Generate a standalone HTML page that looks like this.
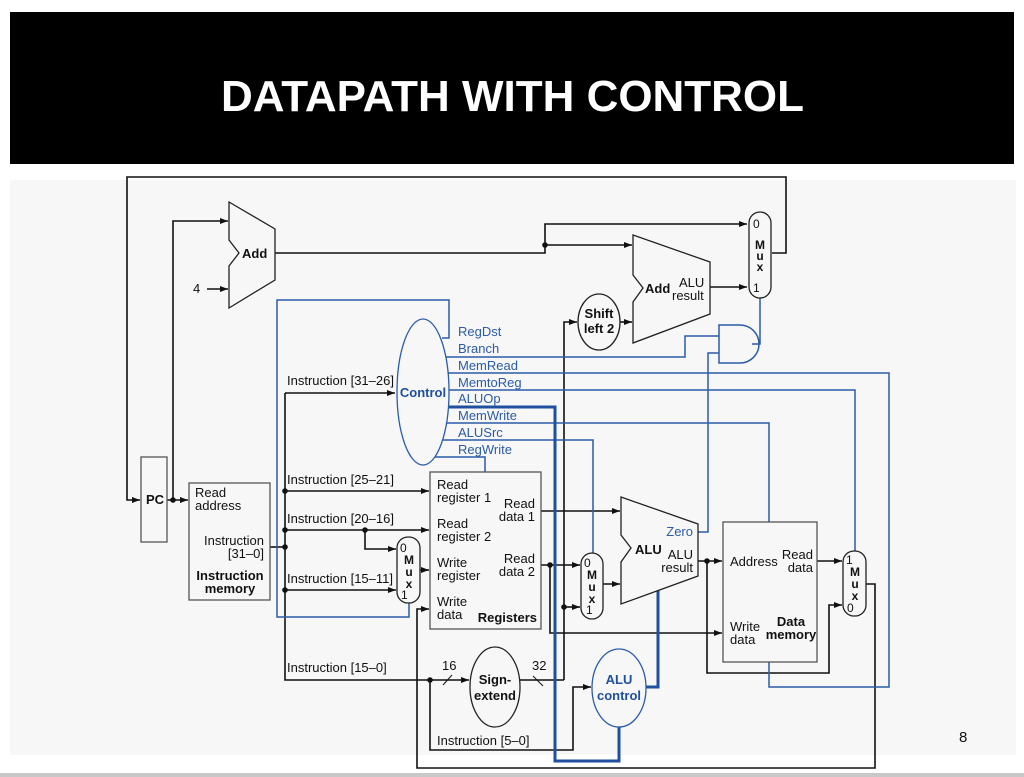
<!DOCTYPE html>
<html><head><meta charset="utf-8"><style>
html,body{margin:0;padding:0;background:#fff;}
svg{display:block;font-family:"Liberation Sans",sans-serif;}
</style></head><body>
<svg width="1024" height="777" viewBox="0 0 1024 777" xmlns="http://www.w3.org/2000/svg">
<defs>
<marker id="a" markerWidth="8" markerHeight="6" refX="8" refY="3" orient="auto" markerUnits="userSpaceOnUse"><path d="M0,0 L8,3 L0,6 z" fill="#111"/></marker>
</defs>
<rect x="0" y="0" width="1024" height="777" fill="#fff"/>
<rect x="10" y="12" width="1004" height="152" fill="#000"/>
<text x="221" y="111" fill="#fff" font-size="44" font-weight="bold" textLength="583" lengthAdjust="spacingAndGlyphs">DATAPATH WITH CONTROL</text>
<rect x="10" y="180" width="1006" height="575" fill="#f7f7f7"/>
<rect x="0" y="773" width="1024" height="4" fill="#c8c8c8"/>
<text x="959" y="742" font-size="15" fill="#111">8</text>

<g fill="none" stroke="#111" stroke-width="1.6">
<polyline points="772,253 786,253 786,177 127,177 127,500 140,500" marker-end="url(#a)"/>
<polyline points="167,500 188,500" marker-end="url(#a)"/>
<polyline points="173,500 173,221 228,221" marker-end="url(#a)"/>
<polyline points="207,289 228,289" marker-end="url(#a)"/>
<polyline points="275,253 545,253 545,224 747,224" marker-end="url(#a)"/>
<polyline points="545,245 632,245" marker-end="url(#a)"/>
<polyline points="710,287 747,287" marker-end="url(#a)"/>
<polyline points="620,322 632,322" marker-end="url(#a)"/>
<polyline points="564,680 564,322 577,322" marker-end="url(#a)"/>
<polyline points="270,547 285,547"/>
<polyline points="285,393 285,680 469,680" marker-end="url(#a)"/>
<polyline points="285,393 395,393" marker-end="url(#a)"/>
<polyline points="285,491 429,491" marker-end="url(#a)"/>
<polyline points="285,530 429,530" marker-end="url(#a)"/>
<polyline points="365,530 365,549 396,549" marker-end="url(#a)"/>
<polyline points="285,590 396,590" marker-end="url(#a)"/>
<polyline points="420,570 429,570" marker-end="url(#a)"/>
<polyline points="430,680 430,750 573,750 573,687 591,687" marker-end="url(#a)"/>
<polyline points="520,680 564,680"/>
<polyline points="866,584 875,584 875,768 417,768 417,609 429,609" marker-end="url(#a)"/>
<polyline points="541,511 620,511" marker-end="url(#a)"/>
<polyline points="541,565 580,565" marker-end="url(#a)"/>
<polyline points="550,565 550,633 722,633" marker-end="url(#a)"/>
<polyline points="564,607 580,607" marker-end="url(#a)"/>
<polyline points="603,584 620,584" marker-end="url(#a)"/>
<polyline points="698,561 722,561" marker-end="url(#a)"/>
<polyline points="707,561 707,673 829,673 829,605 842,605" marker-end="url(#a)"/>
<polyline points="817,561 842,561" marker-end="url(#a)"/>
<line x1="443" y1="685" x2="452" y2="675" stroke-width="1"/>
<line x1="533" y1="676" x2="543" y2="686" stroke-width="1"/>
</g>
<g fill="#111">
<circle cx="173" cy="500" r="2.8"/><circle cx="545" cy="245" r="2.8"/>
<circle cx="285" cy="547" r="2.8"/><circle cx="285" cy="491" r="2.8"/><circle cx="285" cy="530" r="2.8"/>
<circle cx="365" cy="530" r="2.8"/><circle cx="285" cy="590" r="2.8"/><circle cx="430" cy="680" r="2.8"/>
<circle cx="550" cy="565" r="2.8"/><circle cx="564" cy="607" r="2.8"/><circle cx="707" cy="561" r="2.8"/>
</g>

<g fill="none" stroke="#2b5ca8" stroke-width="1.5">
<polyline points="442,338 449,338 449,300 277,300 277,617 409,617 409,603"/>
<polyline points="446,357 685,357 685,336 719,336"/>
<polyline points="448,373 889,373 889,687 769,687 769,662"/>
<polyline points="449,390 855,390 855,551"/>
<polyline points="446,423 769,423 769,522"/>
<polyline points="443,440 593,440 593,553"/>
<polyline points="435,457 485,457 485,472"/>
<polyline points="698,532 708,532 708,353 719,353"/>
<polyline points="752,344 760,344 760,298"/>
<path d="M719,325 L740,325 A19,19 0 0 1 740,363 L719,363 Z"/>
</g>
<g fill="none" stroke="#1f4f9e" stroke-width="3">
<polyline points="448,407 555,407 555,761 619,761 619,727"/>
<polyline points="646,687 658,687 658,590"/>
</g>

<g fill="#f7f7f7" stroke="#222" stroke-width="1.3">
<polygon points="229,202 275,229 275,280 229,308 229,266 239,253 229,240"/>
<polygon points="633,235 710,262 710,314 633,343 633,302 643,288 633,275"/>
<polygon points="621,497 698,524 698,576 621,604 621,562 631,548 621,535"/>
<ellipse cx="599" cy="322" rx="21" ry="28"/>
<ellipse cx="495" cy="687" rx="25" ry="40"/>
<rect x="141" y="457" width="26" height="85" stroke="#555"/>
<rect x="189" y="483" width="81" height="117" stroke="#555"/>
<rect x="430" y="472" width="111" height="157" stroke="#555"/>
<rect x="723" y="522" width="94" height="140" stroke="#555"/>
<rect x="749" y="212" width="22" height="86" rx="11"/>
<rect x="397" y="537" width="23" height="66" rx="11"/>
<rect x="581" y="553" width="22" height="66" rx="11"/>
<rect x="843" y="551" width="23" height="65" rx="11"/>
</g>
<g fill="#f7f7f7" stroke="#2b5ca8" stroke-width="1.3">
<ellipse cx="423" cy="392" rx="26" ry="73"/>
<ellipse cx="619" cy="688" rx="27" ry="39"/>
</g>

<g fill="#111" font-size="13">
<text x="242" y="258" font-weight="bold">Add</text>
<text x="193" y="293">4</text>
<text x="645" y="293" font-weight="bold">Add</text>
<text x="679" y="287">ALU</text>
<text x="672" y="300">result</text>
<text x="599" y="318" font-weight="bold" text-anchor="middle">Shift</text>
<text x="599" y="333" font-weight="bold" text-anchor="middle">left 2</text>
<text x="146" y="504" font-weight="bold">PC</text>
<text x="195" y="497">Read</text>
<text x="195" y="510">address</text>
<text x="264" y="545" text-anchor="end">Instruction</text>
<text x="264" y="558" text-anchor="end">[31–0]</text>
<text x="230" y="580" font-weight="bold" text-anchor="middle">Instruction</text>
<text x="230" y="593" font-weight="bold" text-anchor="middle">memory</text>
<text x="287" y="385">Instruction [31–26]</text>
<text x="287" y="484">Instruction [25–21]</text>
<text x="287" y="523">Instruction [20–16]</text>
<text x="287" y="583">Instruction [15–11]</text>
<text x="287" y="672">Instruction [15–0]</text>
<text x="437" y="745">Instruction [5–0]</text>
<text x="437" y="489">Read</text>
<text x="437" y="502">register 1</text>
<text x="437" y="528">Read</text>
<text x="437" y="541">register 2</text>
<text x="437" y="567">Write</text>
<text x="437" y="580">register</text>
<text x="437" y="606">Write</text>
<text x="437" y="619">data</text>
<text x="535" y="508" text-anchor="end">Read</text>
<text x="535" y="521" text-anchor="end">data 1</text>
<text x="535" y="563" text-anchor="end">Read</text>
<text x="535" y="576" text-anchor="end">data 2</text>
<text x="537" y="622" font-weight="bold" text-anchor="end">Registers</text>
<text x="495" y="684" font-weight="bold" text-anchor="middle">Sign-</text>
<text x="495" y="700" font-weight="bold" text-anchor="middle">extend</text>
<text x="442" y="670">16</text>
<text x="532" y="670">32</text>
<text x="635" y="554" font-weight="bold">ALU</text>
<text x="693" y="559" text-anchor="end">ALU</text>
<text x="693" y="572" text-anchor="end">result</text>
<text x="730" y="566">Address</text>
<text x="813" y="559" text-anchor="end">Read</text>
<text x="813" y="572" text-anchor="end">data</text>
<text x="730" y="631">Write</text>
<text x="730" y="644">data</text>
<text x="791" y="626" font-weight="bold" text-anchor="middle">Data</text>
<text x="791" y="639" font-weight="bold" text-anchor="middle">memory</text>
</g>
<g fill="#111" font-size="12">
<text x="753" y="228">0</text><text x="760" y="249" font-weight="bold" text-anchor="middle">M</text><text x="760" y="260" font-weight="bold" text-anchor="middle">u</text><text x="760" y="271" font-weight="bold" text-anchor="middle">x</text><text x="753" y="292">1</text>
<text x="400" y="552">0</text><text x="409" y="564" font-weight="bold" text-anchor="middle">M</text><text x="409" y="576" font-weight="bold" text-anchor="middle">u</text><text x="409" y="588" font-weight="bold" text-anchor="middle">x</text><text x="401" y="599">1</text>
<text x="584" y="567">0</text><text x="592" y="579" font-weight="bold" text-anchor="middle">M</text><text x="592" y="591" font-weight="bold" text-anchor="middle">u</text><text x="592" y="603" font-weight="bold" text-anchor="middle">x</text><text x="586" y="614">1</text>
<text x="846" y="564">1</text><text x="855" y="576" font-weight="bold" text-anchor="middle">M</text><text x="855" y="588" font-weight="bold" text-anchor="middle">u</text><text x="855" y="600" font-weight="bold" text-anchor="middle">x</text><text x="847" y="612">0</text>
</g>
<g fill="#2b5ca8" font-size="13">
<text x="423" y="397" font-weight="bold" text-anchor="middle" fill="#1f4f9e">Control</text>
<text x="458" y="336">RegDst</text>
<text x="458" y="353">Branch</text>
<text x="458" y="370">MemRead</text>
<text x="458" y="387">MemtoReg</text>
<text x="458" y="403">ALUOp</text>
<text x="458" y="420">MemWrite</text>
<text x="458" y="437">ALUSrc</text>
<text x="458" y="454">RegWrite</text>
<text x="693" y="536" text-anchor="end">Zero</text>
<text x="619" y="684" font-weight="bold" text-anchor="middle" fill="#1f4f9e">ALU</text>
<text x="619" y="700" font-weight="bold" text-anchor="middle" fill="#1f4f9e">control</text>
</g>
</svg>
</body></html>
